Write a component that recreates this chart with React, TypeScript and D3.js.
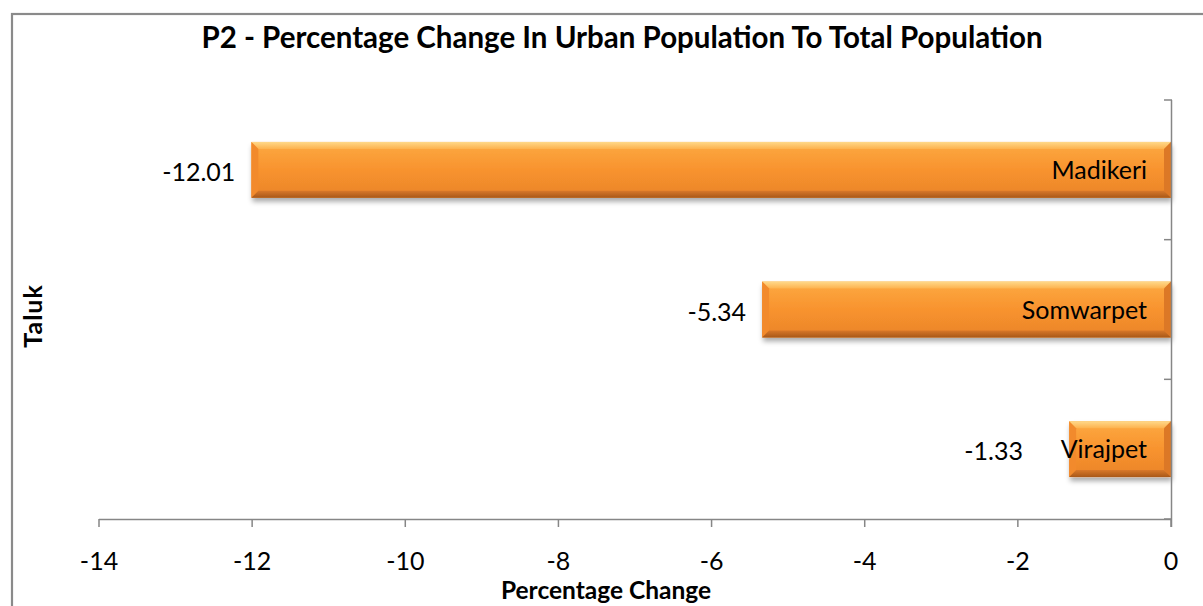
import React from "react";
import * as d3 from "d3";

const categories = ["Madikeri", "Somwarpet", "Virajpet"];
const values = [-12.01, -5.34, -1.33];
const xTicks = [-14, -12, -10, -8, -6, -4, -2, 0];
const titleText = "P2 - Percentage Change In Urban Population To Total Population";
const xAxisTitle = "Percentage Change";
const yAxisTitle = "Taluk";

const W = 1203;
const H = 606;
const FONT = "Lato, 'Open Sans', sans-serif";
const AXIS = "#868686";

export default function App() {
  const x = d3.scaleLinear().domain([-14, 0]).range([99, 1171]);
  const y = d3
    .scaleBand<string>()
    .domain(categories)
    .range([100, 519])
    .paddingInner(0.6)
    .paddingOuter(0.3);
  const bw = y.bandwidth();
  const step = y.step();
  const bounds = categories.map((c) => (y(c) as number) - (step - bw) / 2);
  bounds.push(519);
  const fs = 25;
  const approxWidth = (s: string) => s.length * fs * 0.47;
  const bev = 7;

  return (
    <svg
      width={W}
      height={H}
      style={{ position: "absolute", left: 0, top: 0, background: "#fff" }}
      fontFamily={FONT}
    >
      <defs>
        <linearGradient id="barFill" x1="0" y1="0" x2="0" y2="1">
          <stop offset="0" stopColor="#FDAA42" />
          <stop offset="0.5" stopColor="#F8932E" />
          <stop offset="1" stopColor="#EA842A" />
        </linearGradient>
        <linearGradient id="topBevel" x1="0" y1="0" x2="0" y2="1">
          <stop offset="0" stopColor="#FFD98A" />
          <stop offset="1" stopColor="#FDB24E" />
        </linearGradient>
        <linearGradient id="botBevel" x1="0" y1="0" x2="0" y2="1">
          <stop offset="0" stopColor="#D8782A" />
          <stop offset="1" stopColor="#A85818" />
        </linearGradient>
        <filter id="shadow" x="-5%" y="-20%" width="110%" height="160%">
          <feDropShadow dx="1" dy="4" stdDeviation="2.5" floodColor="#000" floodOpacity="0.33" />
        </filter>
      </defs>
      <rect x={12} y={14} width={1240} height={640} fill="#fff" stroke="#8a8a8a" strokeWidth={2.2} />
      <text x={622} y={48} textAnchor="middle" fontSize={29.5} fontWeight={700} fill="#000">
        {titleText}
      </text>

      {categories.map((c, i) => {
        const v = values[i];
        const x0 = x(v);
        const x1 = x(0);
        const y0 = y(c) as number;
        const w = x1 - x0;
        const cy = y0 + bw / 2;
        const catEnd = x1 - 24;
        const catStart = catEnd - approxWidth(c);
        let valEnd = x0 - 16;
        if (valEnd > catStart - 24) valEnd = catStart - 30;
        return (
          <g key={c}>
            <g filter="url(#shadow)">
              <rect x={x0} y={y0} width={w} height={bw} fill="url(#barFill)" />
            </g>
            <polygon
              points={`${x0},${y0} ${x1},${y0} ${x1 - bev},${y0 + bev} ${x0 + bev},${y0 + bev}`}
              fill="url(#topBevel)"
            />
            <polygon
              points={`${x0},${y0} ${x0 + bev},${y0 + bev} ${x0 + bev},${y0 + bw - bev} ${x0},${y0 + bw}`}
              fill="#F28A2C"
            />
            <polygon
              points={`${x1},${y0} ${x1},${y0 + bw} ${x1 - bev},${y0 + bw - bev} ${x1 - bev},${y0 + bev}`}
              fill="#DC7826"
            />
            <polygon
              points={`${x0},${y0 + bw} ${x1},${y0 + bw} ${x1 - bev},${y0 + bw - bev} ${x0 + bev},${y0 + bw - bev}`}
              fill="url(#botBevel)"
            />
            <text x={catEnd} y={cy + 9} textAnchor="end" fontSize={fs} fill="#000">
              {c}
            </text>
            <text x={valEnd} y={cy + 11} textAnchor="end" fontSize={fs} fill="#000">
              {v.toFixed(2)}
            </text>
          </g>
        );
      })}

      {/* x axis */}
      <line x1={99} x2={1172} y1={519.5} y2={519.5} stroke={AXIS} strokeWidth={1.5} />
      {xTicks.map((t) => (
        <g key={t}>
          <line x1={x(t)} x2={x(t)} y1={519} y2={527} stroke={AXIS} strokeWidth={1.5} />
          <text x={x(t)} y={570} textAnchor="middle" fontSize={fs} fill="#000">
            {t}
          </text>
        </g>
      ))}
      {/* y axis */}
      <line x1={1171.5} x2={1171.5} y1={100} y2={527} stroke={AXIS} strokeWidth={1.5} />
      {bounds.map((b, i) => (
        <line key={i} x1={1164} x2={1172} y1={b} y2={b} stroke={AXIS} strokeWidth={1.5} />
      ))}

      <text x={606} y={599} textAnchor="middle" fontSize={24.5} fontWeight={700} fill="#000">
        {xAxisTitle}
      </text>
      <text
        transform={`translate(42, 316) rotate(-90)`}
        textAnchor="middle"
        fontSize={25}
        fontWeight={700}
        letterSpacing={1}
        fill="#000"
      >
        {yAxisTitle}
      </text>
    </svg>
  );
}
